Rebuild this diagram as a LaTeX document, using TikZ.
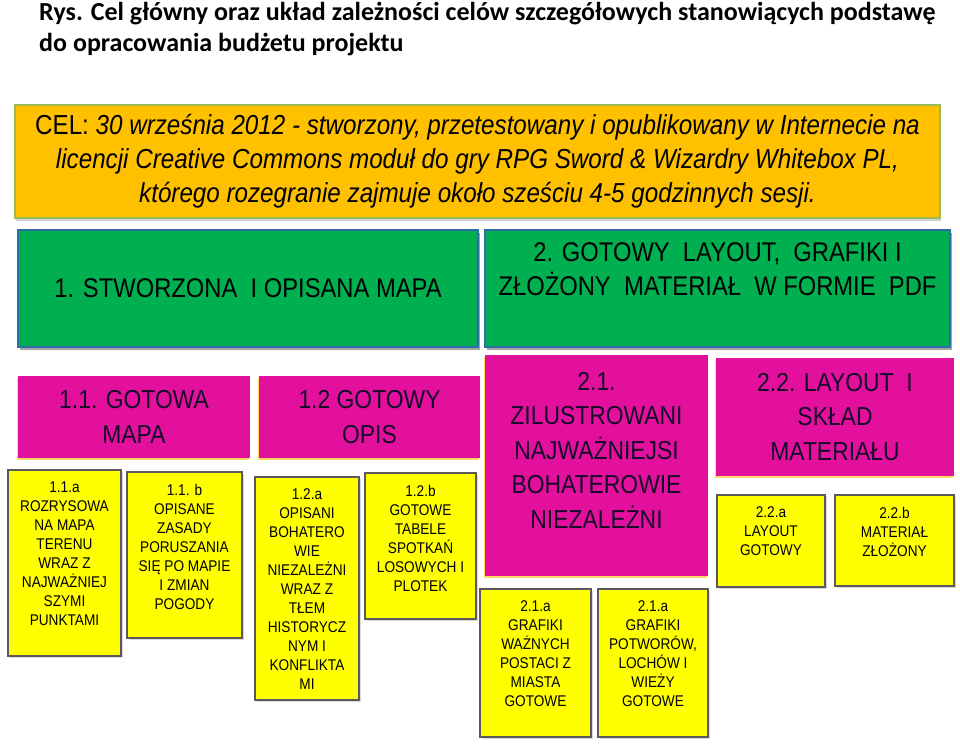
\documentclass[tikz,border=0pt]{standalone}
\usepackage{fontspec}
\newfontfamily\boxfont{Liberation Sans}[FakeStretch=0.88]
\newfontfamily\titlefont{Carlito}
\usetikzlibrary{positioning,shadows}
\definecolor{celorange}{HTML}{FFC000}
\definecolor{celedge}{HTML}{9BBB59}
\definecolor{goalgreen}{HTML}{00B050}
\definecolor{greenedge}{HTML}{2E6DA4}
\definecolor{subpink}{HTML}{E2109C}
\definecolor{pinktext}{HTML}{160A2A}
\definecolor{taskyellow}{HTML}{FFFF00}
\definecolor{taskedge}{HTML}{5A5A5A}
\begin{document}
\begin{tikzpicture}[
    x=1pt, y=-1pt,
    every node/.style={align=center, inner sep=0pt},
    cel/.style={draw=celedge, line width=1.2pt, fill=celorange, drop shadow={shadow xshift=1pt, shadow yshift=-3pt, opacity=.35}, font=\boxfont\fontsize{27.5}{34}\selectfont},
    goal/.style={draw=greenedge, line width=1.5pt, fill=goalgreen, drop shadow={shadow xshift=2pt, shadow yshift=-3pt, opacity=.7}, font=\boxfont\fontsize{27}{34}\selectfont},
    sub/.style={fill=subpink, drop shadow={shadow xshift=-1pt, shadow yshift=-2pt, fill=celorange, opacity=.6}, text=pinktext, font=\boxfont\fontsize{26}{34.5}\selectfont},
    task/.style={draw=taskedge, line width=1.5pt, fill=taskyellow, drop shadow={shadow xshift=1.5pt, shadow yshift=-2pt, opacity=.3}},
    tasktext/.style={font=\boxfont\fontsize{15.5}{19}\selectfont}
]
\useasboundingbox (0,0) rectangle (960,745);

\node[anchor=north west, align=left, font=\titlefont\bfseries\fontsize{26}{31}\selectfont] (title) at (39,2)
    {Rys. Cel główny oraz układ zależności celów szczegółowych stanowiących podstawę\\do opracowania budżetu projektu};

\node[cel, minimum width=925pt, minimum height=113pt] (cel) at (477.5,161.5)
    {CEL: \textit{30 września 2012 - stworzony, przetestowany i opublikowany w Internecie na}\\
     \textit{licencji Creative Commons moduł do gry RPG Sword \& Wizardry Whitebox PL,}\\
     \textit{którego rozegranie zajmuje około sześciu 4-5 godzinnych sesji.}};

\node[goal, minimum width=460pt, minimum height=117pt] (g1) at (248,288.5) {1. STWORZONA\ \ I OPISANA MAPA};
\node[goal, minimum width=465pt, minimum height=117pt] (g2) at (717.5,288.5) {};
\node[font=\boxfont\fontsize{27}{34}\selectfont, below=13pt of g2.north] (g2t) {2. GOTOWY\ \ LAYOUT,\ \ GRAFIKI I\\ZŁOŻONY\ \ MATERIAŁ\ \ W FORMIE\ \ PDF};

\node[sub, minimum width=232pt, minimum height=82pt] (m11) at (134,417) {1.1. GOTOWA\\MAPA};
\node[sub, minimum width=221pt, minimum height=82pt] (m12) at (369.5,417) {1.2 GOTOWY\\OPIS};
\node[sub, minimum width=223pt, minimum height=221pt] (m21) at (596.5,465.5) {};
\node[text=pinktext, font=\boxfont\fontsize{26}{34.5}\selectfont, below=17pt of m21.north] (m21t)
    {2.1.\\ZILUSTROWANI\\NAJWAŻNIEJSI\\BOHATEROWIE\\NIEZALEŻNI};
\node[sub, minimum width=238pt, minimum height=118pt] (m22) at (835,417) {2.2. LAYOUT\ \ I\\SKŁAD\\MATERIAŁU};

\node[task, minimum width=113pt, minimum height=186pt] (y11a) at (64.5,563) {};
\node[task, minimum width=115pt, minimum height=166pt] (y11b) at (184.5,555) {};
\node[task, minimum width=104pt, minimum height=223pt] (y12a) at (307,588.5) {};
\node[task, minimum width=111pt, minimum height=146pt] (y12b) at (420.5,546) {};
\node[task, minimum width=111pt, minimum height=148pt] (y21a) at (535.5,663) {};
\node[task, minimum width=110pt, minimum height=148pt] (y21b) at (653,663) {};
\node[task, minimum width=108pt, minimum height=92pt] (y22a) at (771,541) {};
\node[task, minimum width=119pt, minimum height=91pt] (y22b) at (894.5,540.5) {};

\node[tasktext, below=12.5pt of y11a.north] (y11at) {1.1.a\\ROZRYSOWA\\NA MAPA\\TERENU\\WRAZ Z\\NAJWAŻNIEJ\\SZYMI\\PUNKTAMI};
\node[tasktext, below=12.5pt of y11b.north] (y11bt) {1.1. b\\OPISANE\\ZASADY\\PORUSZANIA\\SIĘ PO MAPIE\\I ZMIAN\\POGODY};
\node[tasktext, below=12.5pt of y12a.north] (y12at) {1.2.a\\OPISANI\\BOHATERO\\WIE\\NIEZALEŻNI\\WRAZ Z\\TŁEM\\HISTORYCZ\\NYM I\\KONFLIKTA\\MI};
\node[tasktext, below=12.5pt of y12b.north] (y12bt) {1.2.b\\GOTOWE\\TABELE\\SPOTKAŃ\\LOSOWYCH I\\PLOTEK};
\node[tasktext, below=12.5pt of y21a.north] (y21at) {2.1.a\\GRAFIKI\\WAŻNYCH\\POSTACI Z\\MIASTA\\GOTOWE};
\node[tasktext, below=12.5pt of y21b.north] (y21bt) {2.1.a\\GRAFIKI\\POTWORÓW,\\LOCHÓW I\\WIEŻY\\GOTOWE};
\node[tasktext, below=12.5pt of y22a.north] (y22at) {2.2.a\\LAYOUT\\GOTOWY};
\node[tasktext, below=12.5pt of y22b.north] (y22bt) {2.2.b\\MATERIAŁ\\ZŁOŻONY};

\end{tikzpicture}
\end{document}
